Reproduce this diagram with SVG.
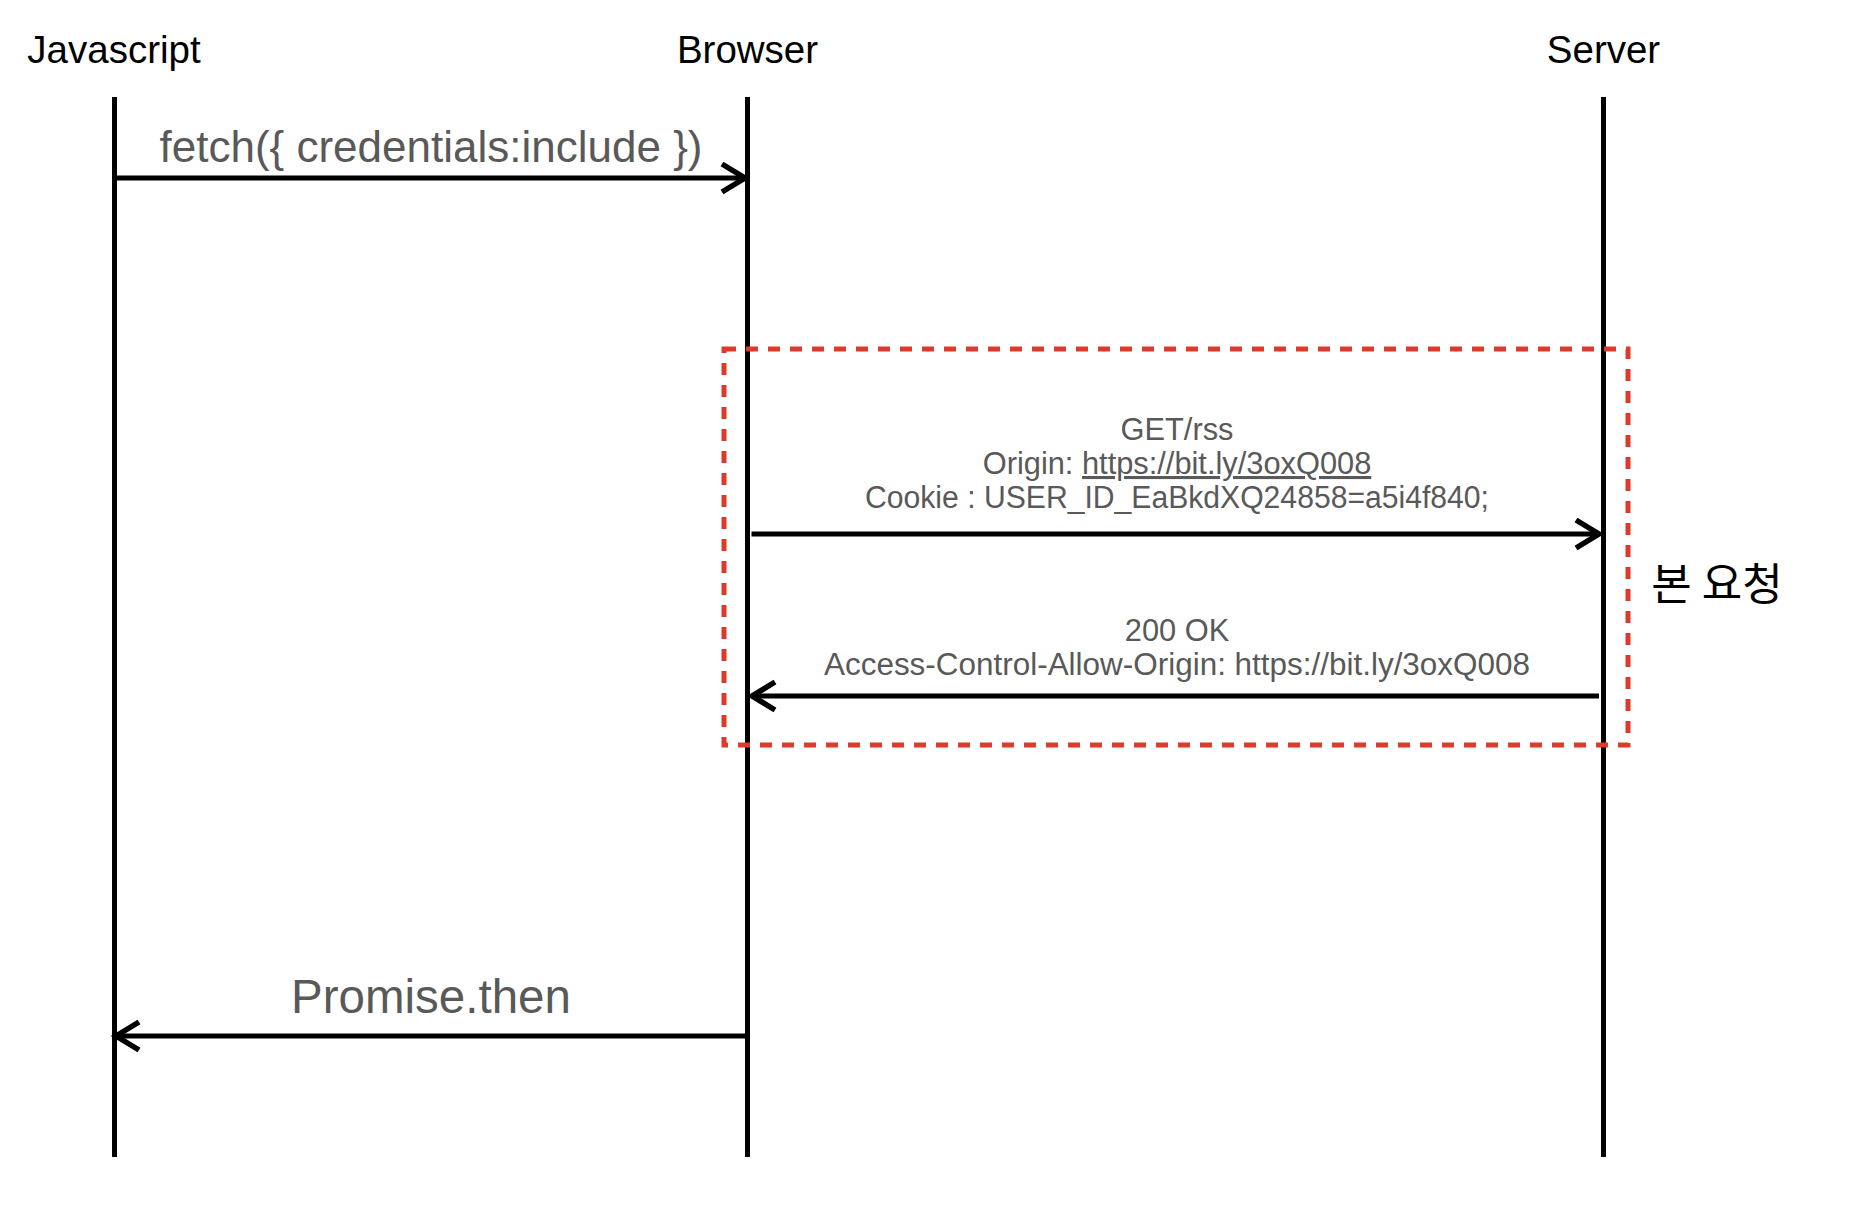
<svg xmlns="http://www.w3.org/2000/svg" width="1850" height="1210" viewBox="0 0 1850 1210">
<style>
.actor{font-family:"Liberation Sans",Arial,sans-serif;font-size:38.5px;fill:#000;text-anchor:middle}
.lbl{font-family:"Liberation Sans",Arial,sans-serif;fill:#595959;text-anchor:middle}
.life{stroke:#000;stroke-width:5;fill:none}
.msg{stroke:#000;stroke-width:5;fill:none}
.box{fill:none;stroke:#DE3A2B;stroke-width:5;stroke-dasharray:12 10}
.kr{font-family:"Noto Sans CJK KR","Noto Sans",sans-serif;font-size:44px;fill:#000;text-anchor:middle}
</style>
<defs>
<marker id="arr" markerUnits="userSpaceOnUse" markerWidth="34" markerHeight="36" refX="28" refY="18" orient="auto">
<path d="M5,4 L28,18 L5,32" fill="none" stroke="#000" stroke-width="5.5"/>
</marker>
</defs>
<rect width="1850" height="1210" fill="#fff"/>
<g id="javascript">
<text class="actor" x="114" y="63">Javascript</text>
<line class="life" x1="114.5" y1="97" x2="114.5" y2="1157"/>
</g>
<g id="browser">
<text class="actor" x="747.5" y="63">Browser</text>
<line class="life" x1="747.5" y1="97" x2="747.5" y2="1157"/>
</g>
<g id="server">
<text class="actor" x="1603.5" y="63">Server</text>
<line class="life" x1="1603.5" y1="97" x2="1603.5" y2="1157"/>
</g>
<g id="main-request">
<rect class="box" x="724" y="349" width="904" height="396"/>
<text class="kr" x="1717" y="600">본 요청</text>
</g>
<g id="connectors">
<line class="msg" x1="114.5" y1="178" x2="745" y2="178" marker-end="url(#arr)"/>
<text class="lbl" x="431" y="162" font-size="44">fetch({ credentials:include })</text>
<line class="msg" x1="751.5" y1="534" x2="1599" y2="534" marker-end="url(#arr)"/>
<text class="lbl" font-size="30.8"><tspan x="1177" y="440">GET/rss</tspan><tspan x="1177" y="474">Origin: <tspan text-decoration="underline">https://bit.ly/3oxQ008</tspan></tspan><tspan x="1177" y="508" textLength="624" lengthAdjust="spacingAndGlyphs">Cookie : USER_ID_EaBkdXQ24858=a5i4f840;</tspan></text>
<line class="msg" x1="1599" y1="696" x2="752" y2="696" marker-end="url(#arr)"/>
<text class="lbl" font-size="30.8"><tspan x="1177" y="641">200 OK</tspan><tspan x="1177" y="675" textLength="706" lengthAdjust="spacingAndGlyphs">Access-Control-Allow-Origin: https://bit.ly/3oxQ008</tspan></text>
<line class="msg" x1="747.5" y1="1036" x2="116" y2="1036" marker-end="url(#arr)"/>
<text class="lbl" x="431" y="1013" font-size="47.5">Promise.then</text>
</g>
</svg>
